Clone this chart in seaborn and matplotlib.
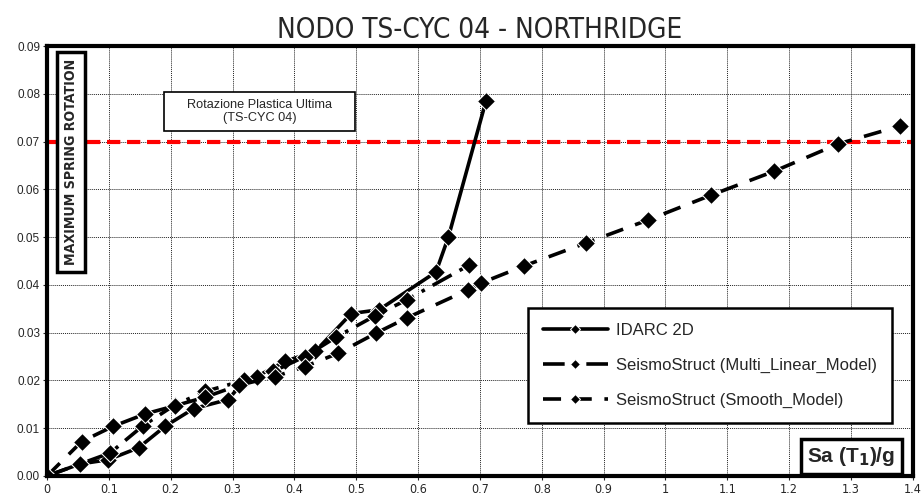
import matplotlib
matplotlib.use("Agg")
import matplotlib.pyplot as plt
import seaborn as sns
from matplotlib.patches import Rectangle
from matplotlib import font_manager

# data
idarc_x = [0, 0.053, 0.099, 0.148, 0.191, 0.237, 0.293, 0.318, 0.339, 0.385, 0.434, 0.492, 0.537, 0.629, 0.649, 0.710]
idarc_y = [0, 0.0025, 0.0034, 0.0059, 0.0104, 0.0141, 0.0160, 0.0198, 0.0208, 0.0240, 0.0261, 0.0340, 0.0348, 0.0427, 0.0500, 0.0786]

multi_x = [0, 0.102, 0.155, 0.207, 0.256, 0.318, 0.366, 0.417, 0.468, 0.530, 0.582, 0.682]
multi_y = [0, 0.0048, 0.0105, 0.0149, 0.0177, 0.0200, 0.0219, 0.0250, 0.0291, 0.0335, 0.0369, 0.0441]

smooth_x = [0, 0.056, 0.107, 0.159, 0.207, 0.256, 0.310, 0.369, 0.417, 0.471, 0.532, 0.582,
            0.680, 0.702, 0.772, 0.872, 0.972, 1.074, 1.176, 1.279, 1.380]
smooth_y = [0, 0.0072, 0.0104, 0.0130, 0.0147, 0.0165, 0.0190, 0.0208, 0.0229, 0.0257, 0.0299, 0.0331,
            0.0389, 0.0404, 0.0440, 0.0488, 0.0536, 0.0588, 0.0638, 0.0695, 0.0733]

limit_rotation = 0.07
x_ticks = [0, 0.1, 0.2, 0.3, 0.4, 0.5, 0.6, 0.7, 0.8, 0.9, 1.0, 1.1, 1.2, 1.3, 1.4]
x_labels = ["0", "0.1", "0.2", "0.3", "0.4", "0.5", "0.6", "0.7", "0.8", "0.9", "1", "1.1", "1.2", "1.3", "1.4"]
y_ticks = [0, 0.01, 0.02, 0.03, 0.04, 0.05, 0.06, 0.07, 0.08, 0.09]

sns.set_style("white")
plt.rcParams["font.family"] = ["Liberation Sans", "DejaVu Sans"]

# narrow font for title / labels, if a condensed face is around
has_condensed = any(f.name == "DejaVu Sans" and f.stretch == "condensed"
                    for f in font_manager.fontManager.ttflist)
narrow = dict(family="DejaVu Sans", fontstretch="condensed") if has_condensed else dict(family="Liberation Sans")

fig = plt.figure(figsize=(9.22, 5.01), dpi=100)
ax = fig.add_axes([0.051, 0.05, 0.939, 0.858])

sns.lineplot(x=idarc_x, y=idarc_y, ax=ax, sort=False, color="black", lw=2.6,
             marker="D", markersize=9.5, label="IDARC 2D")
sns.lineplot(x=multi_x, y=multi_y, ax=ax, sort=False, color="black", lw=2.6,
             marker="D", markersize=9.5, dashes=False, linestyle=(0, (6, 2.5, 1, 2.5)),
             label="SeismoStruct (Multi_Linear_Model)")
sns.lineplot(x=smooth_x, y=smooth_y, ax=ax, sort=False, color="black", lw=2.6,
             marker="D", markersize=9.5, dashes=False, linestyle=(0, (5, 3.5)),
             label="SeismoStruct (Smooth_Model)")

ax.axhline(limit_rotation, color="red", lw=3, linestyle=(0, (3.2, 1.6)), zorder=1)

ax.set_xlim(0, 1.4)
ax.set_ylim(0, 0.09)
ax.set_xticks(x_ticks)
ax.set_xticklabels(x_labels, fontsize=9, **narrow)
ax.set_yticks(y_ticks)
ax.set_yticklabels([f"{v:.2f}" for v in y_ticks], fontsize=8.5)
ax.tick_params(axis="both", length=3, width=0.8, direction="out", pad=2, bottom=True, left=True)
ax.grid(True, color="#222222", linestyle=(0, (1, 1)), lw=0.7)
for s in ax.spines.values():
    s.set_linewidth(3)
    s.set_color("black")
ax.set_xlabel("")
ax.set_ylabel("")

ax.set_title("NODO TS-CYC 04 - NORTHRIDGE", fontsize=20, pad=6, **narrow)

box = dict(boxstyle="square,pad=0.5", fc="white", ec="black", lw=2.5)
ax.text(0.0275, 0.97, "MAXIMUM SPRING ROTATION", transform=ax.transAxes, rotation=90,
        ha="center", va="top", fontsize=10.2, fontweight="bold", bbox=box, **narrow)
ax.text(0.98, 0.018, "Sa (T$_\\mathbf{1}$)/g", transform=ax.transAxes, ha="right", va="bottom",
        fontsize=15, fontweight="bold", bbox=dict(boxstyle="square,pad=0.3", fc="white", ec="black", lw=2.5))

# annotation for the ultimate plastic rotation
ax.add_patch(Rectangle((0.189, 0.0722), 0.309, 0.0081, fc="white", ec="black", lw=1.2, zorder=4))
ax.text(0.3435, 0.0763, "Rotazione Plastica Ultima\n(TS-CYC 04)", ha="center", va="center",
        fontsize=9.2, linespacing=1.1, zorder=5)

leg = ax.legend(loc="upper left", bbox_to_anchor=(0.555, 0.391), fontsize=12,
                handlelength=3.9, handletextpad=0.5, labelspacing=1.2, borderpad=0.9,
                borderaxespad=0, markerscale=0.5,
                frameon=True, fancybox=False, edgecolor="black", framealpha=1)
leg.get_frame().set_linewidth(1.8)

fig.savefig("out.png", dpi=100)
